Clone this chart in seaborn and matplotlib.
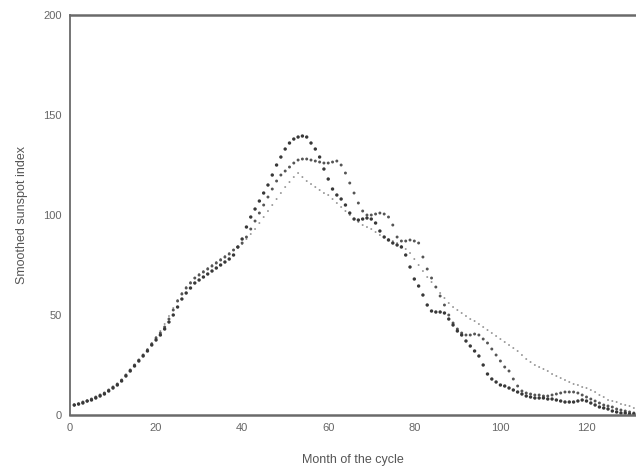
import matplotlib
matplotlib.use("Agg")
import matplotlib.pyplot as plt
import seaborn as sns
import pandas as pd

# Month of the cycle (shared by all three curves)
months = list(range(1, 132))

# Curve with the highest maximum (large dots)
cycle_a = [
    5, 5.5, 6, 7, 7.5, 8.5, 9.5, 10.5, 12, 13.5,             # 1-10
    15, 17, 19.5, 22, 24.5, 27, 29.5, 32, 35, 37.5,          # 11-20
    40, 43, 46.5, 50, 54, 58, 61, 63.5, 66, 67.5,            # 21-30
    69, 70.5, 72, 73.5, 75, 76.5, 78, 80, 84, 88,            # 31-40
    94, 99, 103, 107, 111, 115, 120, 125, 129, 133,          # 41-50
    136, 138, 139, 139.5, 139, 136, 133, 129, 123, 118,      # 51-60
    113, 110, 108, 105, 101, 98, 97.5, 98, 98.5, 98,         # 61-70
    96, 92, 89, 87.5, 86, 85, 84, 80, 74, 68,                # 71-80
    64.5, 60, 55, 52, 51.5, 51.5, 51, 48, 45, 42,            # 81-90
    40, 37, 34.5, 32, 29.5, 25, 20.5, 18, 16.5, 15,          # 91-100
    14.5, 13.5, 12.5, 11.5, 10.5, 9.5, 9, 8.5, 8.5, 8.5,     # 101-110
    8, 8, 7.5, 7, 6.5, 6.5, 6.5, 7, 7.5, 7,                  # 111-120
    6, 5, 4, 3.5, 3, 2, 1.5, 1, 1, 0.5,                      # 121-130
    0.5,                                                     # 131
]

# Curve with the double maximum (medium dots)
cycle_b = [
    5, 5.5, 6.5, 7, 8, 9, 10, 11, 12.5, 14,
    15.5, 17.5, 20, 22.5, 25, 27.5, 30, 32.5, 35.5, 38.5,
    41, 44, 48, 52.5, 57, 60.5, 63.5, 66, 68.5, 70,
    71.5, 73, 74.5, 76, 77.5, 79, 80.5, 82.5, 84, 86,
    89, 93, 97, 101, 105, 109, 113, 117, 120, 122,
    124, 126, 127.5, 128, 128, 127.5, 127, 126.5, 126, 126,
    126.5, 127, 125, 121, 116, 111, 106, 102, 100, 100,
    100.5, 101, 100.5, 99, 95, 89, 87, 87, 87.5, 87,
    86, 79, 73, 68.5, 64, 59.5, 55, 50, 46, 43,
    41, 40, 40, 40.5, 40, 38, 36, 33, 30, 27,
    24, 22, 18, 14.5, 12, 11, 10.5, 10, 10, 9.5,
    9.5, 10, 10.5, 11, 11.5, 11.5, 11.5, 11, 10, 9,
    8, 7, 6, 5, 4.5, 4, 3, 2.5, 2, 1.5,
    1,
]

# Smooth mean curve (small dots)
cycle_c = [
    5, 5.5, 6, 7, 7.5, 8.5, 9.5, 10.5, 12, 13.5,
    15, 17, 19.5, 22, 24.5, 27, 30, 33, 36, 39,
    42, 45.5, 49.5, 53.5, 57.5, 61, 64, 66.5, 68.5, 70.5,
    72, 73.5, 75, 76.5, 78, 79.5, 81, 82.5, 84, 85.5,
    88, 90.5, 93, 96, 99, 102, 105, 108, 111, 114,
    116.5, 119, 121, 119, 117, 115.5, 114, 112.5, 111, 110,
    108, 106, 104, 102, 100, 98, 96.5, 95, 94, 93,
    91.5, 90, 89, 88, 87, 86, 84.5, 83, 81, 78,
    75, 72, 69, 66.5, 64, 61, 58.5, 56, 54, 52.5,
    51, 49.5, 48, 47, 45.5, 44, 42.5, 41, 39.5, 38,
    36.5, 35, 33.5, 32, 30, 28, 26.5, 25, 24, 23,
    22, 20.5, 19.5, 18.5, 17.5, 16.5, 15.5, 15, 14, 13.5,
    12.5, 11.5, 10, 9, 7.5, 7, 6.5, 5.5, 5, 4.5,
    3.5,
]

x_ticks = [0, 20, 40, 60, 80, 100, 120]
y_ticks = [0, 50, 100, 150, 200]

df = pd.DataFrame({"month": months, "a": cycle_a, "b": cycle_b, "c": cycle_c})

sns.set_style("white")
plt.rcParams["font.family"] = ["Liberation Sans", "DejaVu Sans"]

fig = plt.figure(figsize=(6.36, 4.70), dpi=100)
ax = fig.add_axes([0.110, 0.117, 0.890, 0.851])

sns.scatterplot(data=df, x="month", y="c", ax=ax, s=2.0, color="#999999",
                edgecolor="none", linewidth=0, marker="o")
sns.scatterplot(data=df, x="month", y="b", ax=ax, s=4.5, color="#555555",
                edgecolor="none", linewidth=0, marker="o")
sns.scatterplot(data=df, x="month", y="a", ax=ax, s=6.0, color="#383838",
                edgecolor="none", linewidth=0, marker="o")

ax.set_xlim(0, 131.5)
ax.set_ylim(0, 200)
ax.set_xticks(x_ticks)
ax.set_yticks(y_ticks)
ax.tick_params(axis="both", direction="in", length=4, width=1.0,
               colors="#666666", labelsize=8, labelcolor="#666666", pad=6)

for side in ("left", "bottom", "top"):
    ax.spines[side].set_visible(True)
    ax.spines[side].set_color("#6a6a6a")
ax.spines["left"].set_linewidth(1.3)
ax.spines["bottom"].set_linewidth(1.8)
ax.spines["top"].set_linewidth(1.8)
ax.spines["right"].set_visible(False)

ax.set_xlabel("Month of the cycle", fontsize=9, color="#555555", labelpad=15)
ax.set_ylabel("Smoothed sunspot index", fontsize=9, color="#555555", labelpad=11)

fig.savefig("out.png", dpi=100)
